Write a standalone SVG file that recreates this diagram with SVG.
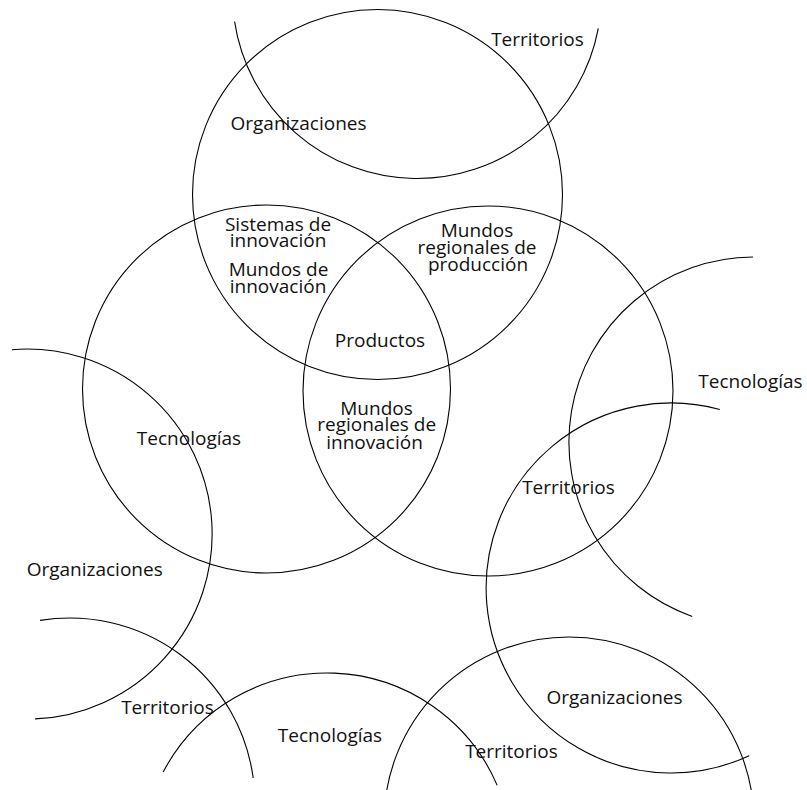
<svg xmlns="http://www.w3.org/2000/svg" width="807" height="790" viewBox="0 0 807 790">
<style>
.c{fill:none;stroke:#000;stroke-width:1.1}
.t{font-family:"Open Sans","Liberation Sans",sans-serif;font-size:19px;fill:#111;text-anchor:middle}
</style>
<rect width="807" height="790" fill="#fff"/>
<g id="circle-top"><circle class="c" cx="377.5" cy="194.5" r="185"/></g>
<g id="circle-left"><circle class="c" cx="266.5" cy="389" r="184"/></g>
<g id="circle-right"><circle class="c" cx="488" cy="391" r="185"/></g>
<g id="arc-territorios-top"><path class="c" d="M234.6 21.7 A184.5 184.5 0 0 0 598.3 28.3"/></g>
<g id="arc-organizaciones-left"><path class="c" d="M11.9 349.7 A185 185 0 1 1 35.1 718.9"/></g>
<g id="arc-territorios-bottomleft"><path class="c" d="M40 620.4 A185 185 0 0 1 253.2 778"/></g>
<g id="arc-tecnologias-bottom"><path class="c" d="M163.2 772 A185 185 0 0 1 497.2 785.4"/></g>
<g id="circle-territorios-bottom"><circle class="c" cx="569" cy="822" r="185"/></g>
<g id="arc-tecnologias-right"><path class="c" d="M753 257 A185 185 0 0 0 692.2 616.4"/></g>
<g id="arc-organizaciones-right"><path class="c" d="M719.8 409.5 A185 185 0 1 0 749.2 755.7"/></g>
<g id="labels">
<text class="t" x="537.5" y="46">Territorios</text>
<text class="t" x="298.5" y="130">Organizaciones</text>
<text class="t" x="278" y="230.5">Sistemas de<tspan x="278" dy="16.8">innovación</tspan></text>
<text class="t" x="278.5" y="276">Mundos de<tspan x="278" dy="16.7">innovación</tspan></text>
<text class="t" x="477" y="237">Mundos<tspan x="477" dy="17">regionales de</tspan><tspan x="478" dy="17">producción</tspan></text>
<text class="t" x="380" y="346.7">Productos</text>
<text class="t" x="376.5" y="415">Mundos<tspan x="376.7" dy="16">regionales de</tspan><tspan x="374.5" dy="18">innovación</tspan></text>
<text class="t" x="189" y="445">Tecnologías</text>
<text class="t" x="94.7" y="576">Organizaciones</text>
<text class="t" x="167.5" y="714">Territorios</text>
<text class="t" x="750.5" y="388.3">Tecnologías</text>
<text class="t" x="568.5" y="494">Territorios</text>
<text class="t" x="614.5" y="704">Organizaciones</text>
<text class="t" x="330" y="742">Tecnologías</text>
<text class="t" x="511.5" y="758">Territorios</text>
</g>
</svg>
